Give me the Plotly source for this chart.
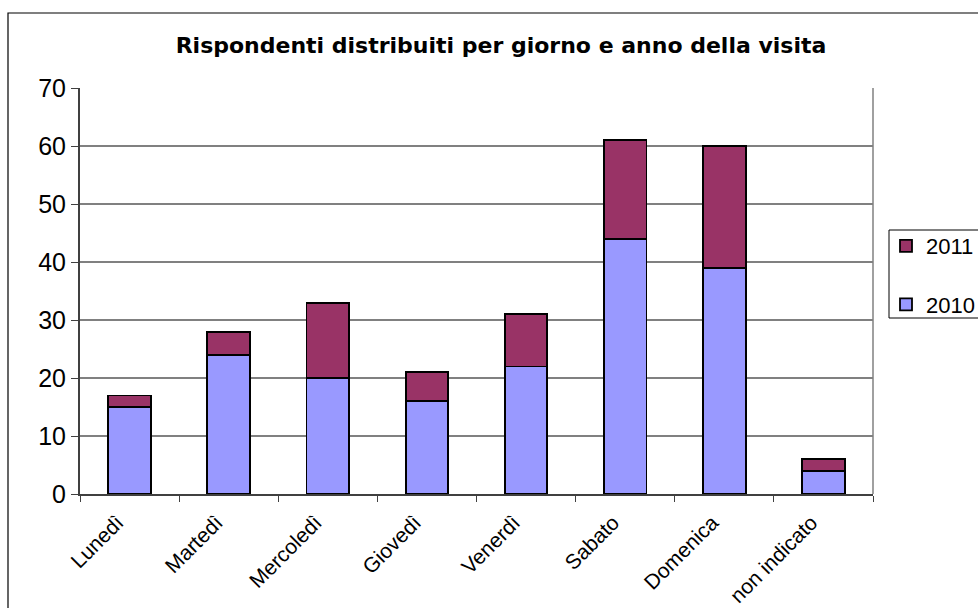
import plotly.graph_objects as go

categories = ["Lunedì", "Martedì", "Mercoledì", "Giovedì", "Venerdì", "Sabato", "Domenica", "non indicato"]
values_2010 = [15, 24, 20, 16, 22, 44, 39, 4]
values_2011 = [2, 4, 13, 5, 9, 17, 21, 2]
y_ticks = [0, 10, 20, 30, 40, 50, 60, 70]

W, H = 978, 608
L, R, T, B = 80, 105, 88, 114
pw, ph = W - L - R, H - T - B

def px_x(x):
    return (x - L) / pw

def px_y(y):
    return (H - B - y) / ph

fig = go.Figure()
fig.add_trace(go.Bar(x=categories, y=values_2010, name="2010", legendgroup="a", legendrank=2,
                     marker=dict(color="#9999FF", line=dict(color="black", width=1.8))))
fig.add_trace(go.Bar(x=categories, y=values_2011, name="2011", legendgroup="b", legendrank=1,
                     marker=dict(color="#993366", line=dict(color="black", width=1.8))))

font = "Liberation Sans, Arial, sans-serif"
fig.update_layout(
    width=W, height=H,
    margin=dict(l=L, r=R, t=T, b=B, autoexpand=False),
    barmode="stack",
    bargap=0.57,
    paper_bgcolor="white",
    plot_bgcolor="white",
    font=dict(family=font, color="black"),
    title=dict(text="<b>Rispondenti distribuiti per giorno e anno della visita</b>",
               x=501 / W, xanchor="center", xref="container",
               y=1 - 45 / H, yanchor="middle", yref="container",
               font=dict(size=22, family="DejaVu Sans, sans-serif", color="black")),
    showlegend=True,
    legend=dict(x=px_x(886), y=px_y(225), xanchor="left", yanchor="top",
                traceorder="grouped", tracegroupgap=27,
                font=dict(size=22, family=font, color="black"),
                bgcolor="rgba(0,0,0,0)", borderwidth=0,
                itemwidth=30),
    xaxis=dict(type="category", tickangle=-45, tickson="boundaries",
               ticks="outside", ticklen=6, tickcolor="#404040",
               showline=True, linecolor="#404040", linewidth=2,
               mirror=False, showgrid=False, automargin=False,
               ticklabelshift=-12, ticklabelstandoff=6,
               tickfont=dict(size=21, family=font, color="black")),
    yaxis=dict(range=[0, 70], tickvals=y_ticks, ticks="outside", ticklen=7,
               tickcolor="#404040", showline=True, linecolor="#404040", linewidth=2,
               showgrid=True, gridcolor="#808080", gridwidth=1.5,
               zeroline=False, automargin=False,
               tickfont=dict(size=25, family=font, color="black")),
)

shapes = [
    dict(type="line", xref="paper", yref="paper", x0=1, x1=1, y0=0, y1=1,
         line=dict(color="#808080", width=1.5), layer="below"),
    dict(type="rect", xref="paper", yref="paper", x0=px_x(8), x1=px_x(W + 20),
         y0=px_y(H + 20), y1=px_y(13), line=dict(color="black", width=1.2),
         fillcolor="rgba(0,0,0,0)"),
    dict(type="rect", xref="paper", yref="paper", x0=px_x(889), x1=px_x(W + 20),
         y0=px_y(318), y1=px_y(230), line=dict(color="black", width=1),
         fillcolor="rgba(0,0,0,0)"),
]
fig.update_layout(shapes=shapes)

fig.write_html("out.html", config={"displayModeBar": False},
               post_script="document.body.style.margin='0';document.body.style.overflow='hidden';")
